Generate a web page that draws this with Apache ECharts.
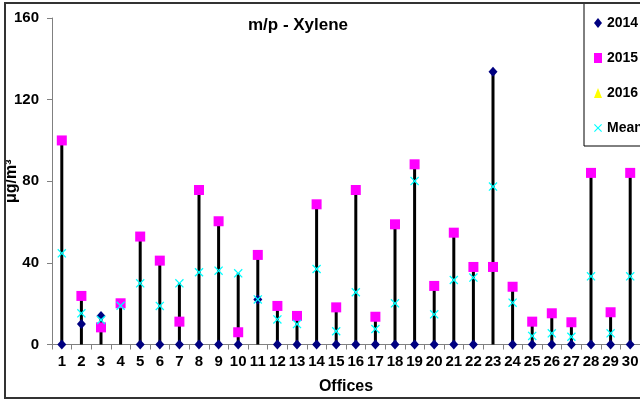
<!DOCTYPE html>
<html>
<head>
<meta charset="utf-8">
<script src="https://cdn.jsdelivr.net/npm/echarts@6/dist/echarts.min.js"></script>
<style>
  html, body { margin: 0; padding: 0; background: #fff; }
  #chart { width: 640px; height: 400px; }
</style>
</head>
<body>
<div id="chart"></div>
<script>
// values
const offices = ['1','2','3','4','5','6','7','8','9','10','11','12','13','14','15','16','17','18','19','20','21','22','23','24','25','26','27','28','29','30'];
const y2014 = [0, 10, 14, null, 0, 0, 0, 0, 0, 0, 22, 0, 0, 0, 0, 0, 0, 0, 0, 0, 0, 0, 133.7, 0, 0, 0, 0, 0, 0, 0];
const y2015 = [100, 23.8, 8.4, 20.2, 52.9, 41.1, 11.2, 75.7, 60.4, 6, 43.9, 18.9, 14, 68.7, 18.2, 75.7, 13.6, 58.9, 88.3, 28.7, 54.8, 38, 38, 28.3, 11.2, 15.3, 10.9, 84.1, 15.8, 84.1];
const y2016 = [];
const yMean = [44.7, 15.3, 12, 19, 30, 18.9, 30, 35.4, 36.2, 34.9, 22.1, 12.3, 10, 37, 6.5, 25.6, 7.6, 20.2, 80.1, 14.8, 31.6, 32.8, 77.4, 20.5, 4.2, 5.5, 3.8, 33.4, 5.5, 33.4];
const yTicks = [0, 40, 80, 120, 160];

// drop lines: from axis up to the highest point of each office
const dropLines = offices.map((o, i) => {
  const vals = [y2014[i], y2015[i], y2016[i], yMean[i]].filter(v => v != null);
  return Math.max.apply(null, vals);
});

const font = '"Liberation Sans", Arial, sans-serif';
const crossPath = 'path://M0,1L1,0L5,4L9,0L10,1L6,5L10,9L9,10L5,6L1,10L0,9L4,5Z';

var myChart = echarts.init(document.getElementById('chart'));
myChart.setOption({
  backgroundColor: '#fff',
  animation: false,
  title: {
    text: 'm/p - Xylene',
    left: 293,
    top: 12,
    textAlign: 'center',
    textStyle: { fontFamily: font, fontSize: 17, fontWeight: 'bold', color: '#000' }
  },
  legend: {
    data: ['2014', '2015', '2016', 'Mean'],
    orient: 'vertical',
    left: 584,
    top: 3,
    padding: [13, 30, 11, 10],
    itemWidth: 8,
    itemHeight: 10,
    itemGap: 21,
    backgroundColor: '#fff',
    borderColor: '#000',
    borderWidth: 1,
    textStyle: { fontFamily: font, fontSize: 14, fontWeight: 'bold', color: '#000', lineHeight: 14 }
  },
  graphic: [{
    type: 'rect',
    shape: { x: 5, y: 3, width: 660, height: 395 },
    style: { fill: 'none', stroke: '#333', lineWidth: 2 },
    z: 100
  }],
  grid: { left: 52, top: 18, width: 588, height: 326.5, containLabel: false, outerBoundsMode: 'none' },
  xAxis: {
    type: 'category',
    data: offices,
    name: 'Offices',
    nameLocation: 'middle',
    nameGap: 34,
    nameMoveOverlap: false,
    nameTextStyle: { fontFamily: font, fontSize: 16, fontWeight: 'bold', color: '#000' },
    axisLine: { lineStyle: { color: '#808080', width: 1 } },
    axisTick: { show: true, length: 5, lineStyle: { color: '#808080' } },
    axisLabel: { fontFamily: font, fontSize: 15, fontWeight: 'bold', color: '#000', margin: 10, interval: 0 }
  },
  yAxis: {
    type: 'value',
    min: yTicks[0],
    max: yTicks[yTicks.length - 1],
    interval: 40,
    name: 'μg/m³',
    nameLocation: 'middle',
    nameGap: 32,
    nameMoveOverlap: false,
    nameTextStyle: { fontFamily: font, fontSize: 16, fontWeight: 'bold', color: '#000' },
    splitLine: { show: false },
    axisLine: { show: true, lineStyle: { color: '#808080', width: 1 } },
    axisTick: { show: true, length: 5, lineStyle: { color: '#808080' } },
    axisLabel: { fontFamily: font, fontSize: 15, fontWeight: 'bold', color: '#000', margin: 13 }
  },
  series: [
    {
      name: 'drop',
      type: 'bar',
      barWidth: 3,
      silent: true,
      itemStyle: { color: '#000' },
      data: dropLines,
      z: 1
    },
    {
      name: '2014',
      type: 'scatter',
      symbol: 'diamond',
      symbolSize: [9, 10],
      itemStyle: { color: '#000080', opacity: 1 },
      data: y2014,
      z: 3
    },
    {
      name: '2015',
      type: 'scatter',
      symbol: 'rect',
      symbolSize: 10,
      itemStyle: { color: '#FF00FF', opacity: 1 },
      data: y2015,
      z: 4
    },
    {
      name: '2016',
      type: 'scatter',
      symbol: 'triangle',
      symbolSize: 10,
      itemStyle: { color: '#FFFF00', opacity: 1 },
      data: y2016,
      z: 5
    },
    {
      name: 'Mean',
      type: 'scatter',
      symbol: crossPath,
      symbolSize: 9,
      itemStyle: { color: '#00FFFF', opacity: 1 },
      data: yMean,
      z: 6
    }
  ]
});
</script>
</body>
</html>
